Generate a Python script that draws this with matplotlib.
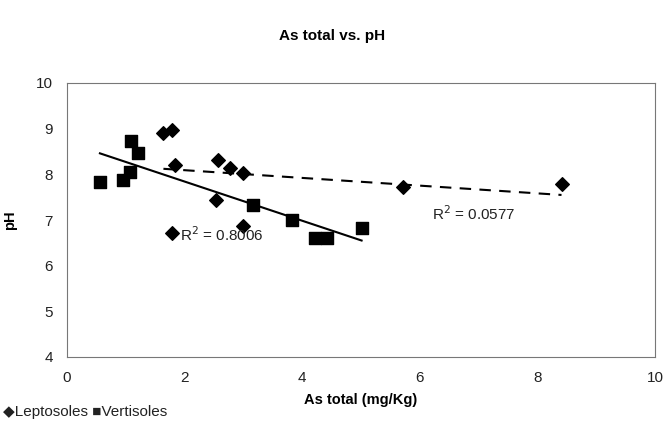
import numpy as np
from matplotlib import pyplot as plt

plt.rcParams['font.family'] = ['Liberation Sans', 'DejaVu Sans']

# Leptosoles (diamonds)
lep_x = [1.64, 1.78, 1.84, 2.57, 2.77, 3.00, 2.53, 2.99, 1.79, 5.71, 8.41]
lep_y = [8.91, 8.96, 8.20, 8.31, 8.13, 8.04, 7.44, 6.86, 6.71, 7.73, 7.79]

# Vertisoles (squares)
ver_x = [0.56, 0.95, 1.07, 1.08, 1.20, 3.16, 3.82, 4.22, 4.42, 5.01]
ver_y = [7.84, 7.88, 8.05, 8.72, 8.47, 7.33, 7.00, 6.61, 6.61, 6.82]

# trend lines: slope, intercept
lep_fit = (-0.0846, 8.26)
ver_fit = (-0.429, 8.70)
r2_lep = "0.0577"
r2_ver = "0.8006"

fig = plt.figure(figsize=(6.65, 4.3), dpi=100)
ax = fig.add_axes([67 / 665, 1 - 357 / 430, 588 / 665, 274 / 430])

ax.scatter(lep_x, lep_y, marker='D', s=48, color='black', zorder=3)
ax.scatter(ver_x, ver_y, marker='s', s=80, color='black', zorder=3)

xs = np.array([min(lep_x), max(lep_x)])
ax.plot(xs, np.polyval(lep_fit, xs), color='black', lw=1.5, dashes=(5.5, 4))
xs = np.array([min(ver_x), max(ver_x)])
ax.plot(xs, np.polyval(ver_fit, xs), color='black', lw=1.5)

ax.text(1.93, 6.55, "R$^2$ = " + r2_ver, fontsize=11, color='#222222')
ax.text(6.2, 7.0, "R$^2$ = " + r2_lep, fontsize=11, color='#222222')

ax.set_xlim(0, 10)
ax.set_ylim(4, 10)
ax.set_xticks(range(0, 11, 2))
ax.set_yticks(range(4, 11))
ax.tick_params(length=0, labelsize=11, pad=10, labelcolor='#222222')
for s in ax.spines.values():
    s.set_color('#777777')
    s.set_linewidth(0.8)

ax.set_xlabel("As total (mg/Kg)", fontsize=10.5, fontweight='bold', labelpad=6)
ax.set_ylabel("pH", fontsize=10.5, fontweight='bold', labelpad=14)
fig.text(0.5, 1 - 36 / 430, "As total vs. pH", fontsize=11, fontweight='bold',
         ha='center', va='center')

fig.text(3 / 665, 1 - 412 / 430, "◆Leptosoles ■Vertisoles", fontsize=11,
         va='center', ha='left', color='#222222')

fig.savefig("out.png", dpi=100)
